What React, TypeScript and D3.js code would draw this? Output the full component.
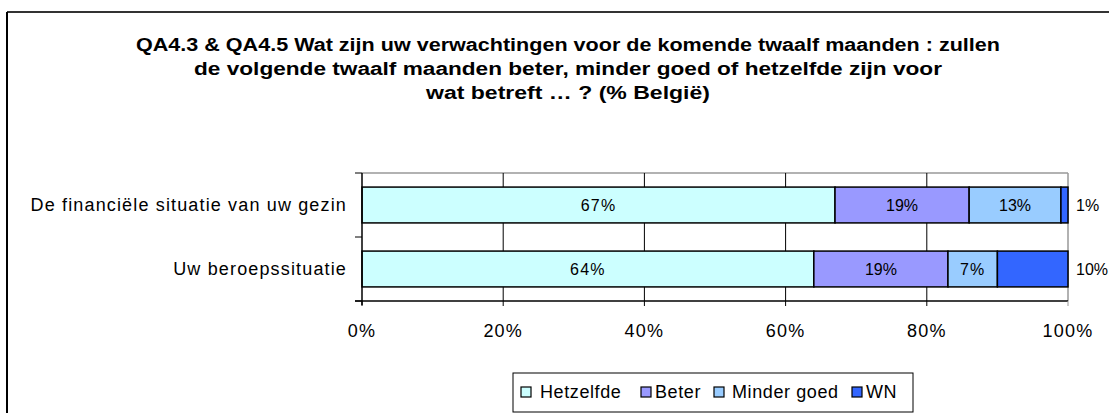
import React from "react";
import * as d3 from "d3";

const categories = ["De financiële situatie van uw gezin", "Uw beroepssituatie"];
const seriesNames = ["Hetzelfde", "Beter", "Minder goed", "WN"];
const seriesColors = ["#CCFFFF", "#9999FF", "#99CCFF", "#3366FF"];
const hetzelfde = [67, 64];
const beter = [19, 19];
const minderGoed = [13, 7];
const wn = [1, 10];
const xTicks = [0, 20, 40, 60, 80, 100];
const titleLines = [
  "QA4.3 & QA4.5  Wat zijn uw verwachtingen voor de komende twaalf maanden : zullen",
  "de volgende twaalf maanden beter, minder goed of hetzelfde zijn voor",
  "wat betreft … ?  (% België)",
];

const W = 1109;
const H = 413;
const FONT = "'Liberation Sans', Arial, sans-serif";

export default function App() {
  const series = [hetzelfde, beter, minderGoed, wn];
  const x = d3.scaleLinear().domain([0, 100]).range([362, 1068]);
  const y = d3.scaleBand<string>().domain(categories).range([173, 301]).paddingInner(0.44).paddingOuter(0.22);
  const yOuter = d3.scaleBand<string>().domain(categories).range([173, 301]);

  const stacked = categories.map((c, i) => {
    let acc = 0;
    return series.map((s, k) => {
      const v = s[i];
      const seg = { k, x0: acc, x1: acc + v, v };
      acc += v;
      return seg;
    });
  });

  const titleWidths = [864, 748, 284];
  const legendMarkerX = [521, 641, 714, 852];
  const legendTextX = [540, 655, 732, 866];

  return (
    <svg width={W} height={H} style={{ position: "absolute", left: 0, top: 0, background: "#fff" }} fontFamily={FONT}>
      <rect x={0} y={0} width={W} height={H} fill="#fff" />
      {/* outer frame */}
      <line x1={7} x2={W} y1={12} y2={12} stroke="#333" strokeWidth={2} />
      <line x1={7} x2={7} y1={12} y2={H} stroke="#000" strokeWidth={2} />

      {titleLines.map((t, i) => (
        <text
          key={i}
          x={568}
          y={51 + i * 24}
          textAnchor="middle"
          fontWeight="bold"
          fontSize={18}
          textLength={titleWidths[i]}
          lengthAdjust="spacingAndGlyphs"
          fill="#000"
        >
          {t}
        </text>
      ))}

      {/* plot border top/right */}
      <line x1={x(0)} x2={x(100)} y1={173} y2={173} stroke="#999" strokeWidth={1.5} />
      <line x1={x(100)} x2={x(100)} y1={173} y2={301} stroke="#999" strokeWidth={1.5} />

      {/* gridlines */}
      {xTicks.slice(1, -1).map((t) => (
        <line key={t} x1={x(t)} x2={x(t)} y1={173} y2={301} stroke="#000" strokeWidth={1} />
      ))}

      {/* bars */}
      {stacked.map((segs, i) =>
        segs.map((s) => (
          <rect
            key={`${i}-${s.k}`}
            x={x(s.x0)}
            y={y(categories[i])!}
            width={x(s.x1) - x(s.x0)}
            height={y.bandwidth()}
            fill={seriesColors[s.k]}
            stroke="#000"
            strokeWidth={1.5}
          />
        ))
      )}

      {/* bar labels */}
      {stacked.map((segs, i) =>
        segs.map((s) => {
          const cy = y(categories[i])! + y.bandwidth() / 2;
          const inside = s.k < 3;
          return (
            <text
              key={`l${i}-${s.k}`}
              x={inside ? (x(s.x0) + x(s.x1)) / 2 : x(100) + 8}
              y={cy}
              dy="0.35em"
              textAnchor={inside ? "middle" : "start"}
              fontSize={16}
              letterSpacing={String(s.v).startsWith("1") ? 0 : 1.2}
              fill="#000"
            >
              {s.v}%
            </text>
          );
        })
      )}

      {/* axes */}
      <line x1={x(0)} x2={x(0)} y1={173} y2={305} stroke="#000" strokeWidth={1.5} />
      <line x1={x(0) - 7} x2={x(100)} y1={301} y2={301} stroke="#000" strokeWidth={1.5} />
      {[173, ...categories.map((c) => yOuter(c)! + yOuter.bandwidth())].map((yy, i) => (
        <line key={i} x1={x(0) - 7} x2={x(0)} y1={yy} y2={yy} stroke="#000" strokeWidth={1} />
      ))}
      {xTicks.map((t) => (
        <g key={t}>
          <line x1={x(t)} x2={x(t)} y1={301} y2={306} stroke={t === 100 ? "#999" : "#000"} strokeWidth={1} />
          <text x={x(t)} y={337} textAnchor="middle" fontSize={18} letterSpacing={1.2} fill="#000">
            {t}%
          </text>
        </g>
      ))}
      {categories.map((c) => (
        <text
          key={c}
          x={347}
          y={yOuter(c)! + yOuter.bandwidth() / 2}
          dy="0.35em"
          textAnchor="end"
          fontSize={18}
          letterSpacing={1.15}
          fill="#000"
        >
          {c}
        </text>
      ))}

      {/* legend */}
      <rect x={513} y={373} width={400} height={39} fill="#fff" stroke="#000" strokeWidth={1} />
      {seriesNames.map((n, k) => (
        <g key={n}>
          <rect x={legendMarkerX[k]} y={387} width={10} height={10} fill={seriesColors[k]} stroke="#000" strokeWidth={1.2} />
          <text x={legendTextX[k]} y={392} dy="0.35em" fontSize={18} letterSpacing={0.6} fill="#000">
            {n}
          </text>
        </g>
      ))}
    </svg>
  );
}
